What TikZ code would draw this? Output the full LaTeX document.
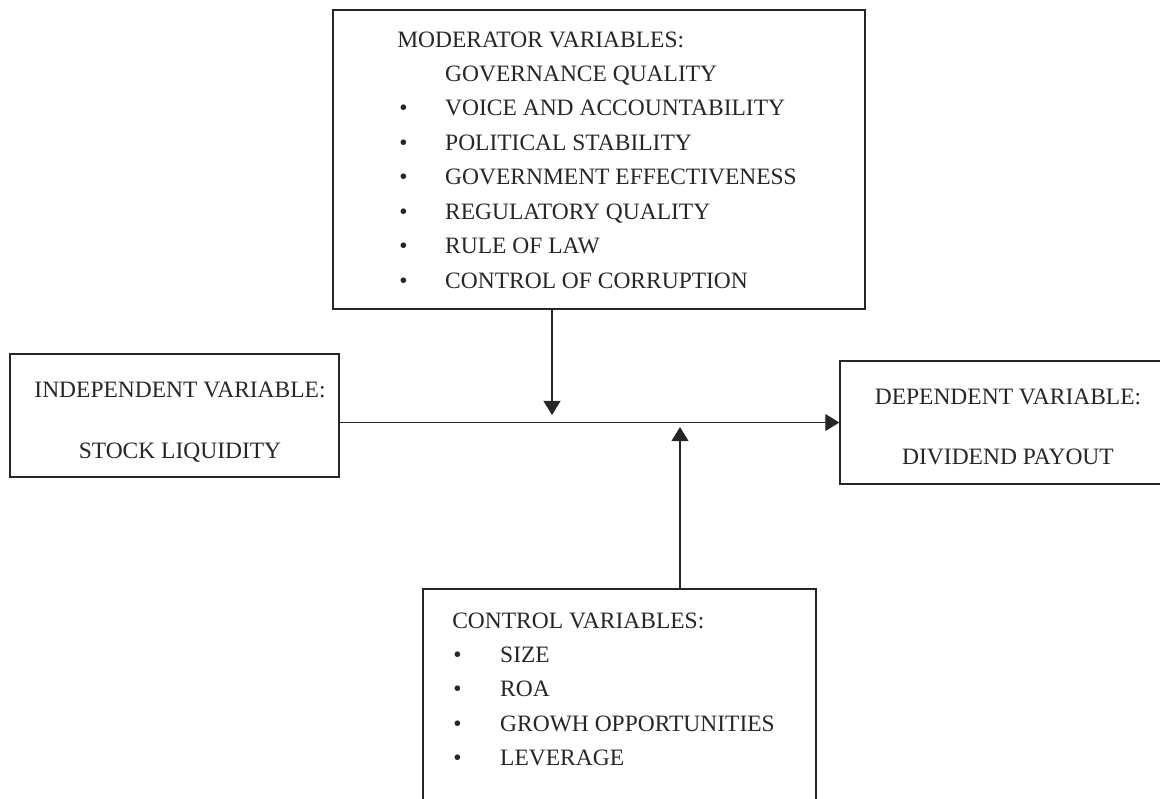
\documentclass[tikz,border=0pt]{standalone}
\usepackage{fontspec}
\setmainfont{Liberation Serif}
\usetikzlibrary{arrows.meta,fit}
\definecolor{ink}{HTML}{262626}
\tikzset{
  box/.style={draw=ink,line width=0.9pt,inner sep=0pt},
  txt/.style={inner sep=0pt,font=\fontsize{16.7}{24.5}\selectfont,text=ink},
  arr/.style={-{Triangle[length=10pt,width=12pt]},line width=0.9pt,color=ink}}

\begin{document}
\begin{tikzpicture}[x=0.025cm,y=-0.025cm]
\clip (0,0) rectangle (1160,798);
% boxes
\node[box,fit={(333,10) (865,309)}] (mod) {};
\node[box,fit={(10,354) (339,477)}] (indep) {};
\node[box,fit={(840,361) (1166,484)}] (dep) {};
\node[box,fit={(423,589) (816,812)}] (ctrl) {};
% texts
\node[txt,anchor=base west] (modtxt) at (397,47) {\begin{tabular}[t]{@{\hspace{1.4pt}}p{32.7pt}@{}l@{}}
\multicolumn{2}{@{}l@{}}{MODERATOR VARIABLES:}\\
 & GOVERNANCE QUALITY\\
\textbullet & VOICE AND ACCOUNTABILITY\\
\textbullet & POLITICAL STABILITY\\
\textbullet & GOVERNMENT EFFECTIVENESS\\
\textbullet & REGULATORY QUALITY\\
\textbullet & RULE OF LAW\\
\textbullet & CONTROL OF CORRUPTION
\end{tabular}};
\node[txt,anchor=base] (indeptxt) at (180,397) {\begin{tabular}[t]{@{}c@{}}
INDEPENDENT VARIABLE:\\[18.9pt]
STOCK LIQUIDITY
\end{tabular}};
\node[txt,anchor=base] (deptxt) at (1008,404) {\begin{tabular}[t]{@{}c@{}}
DEPENDENT VARIABLE:\\[18.2pt]
DIVIDEND PAYOUT
\end{tabular}};
\node[txt,anchor=base west] (ctrltxt) at (452,628) {\begin{tabular}[t]{@{\hspace{0.7pt}}p{33.4pt}@{}l@{}}
\multicolumn{2}{@{}l@{}}{CONTROL VARIABLES:}\\
\textbullet & SIZE\\
\textbullet & ROA\\
\textbullet & GROWH OPPORTUNITIES\\
\textbullet & LEVERAGE
\end{tabular}};
% connectors
\coordinate (dn) at (552,415);
\coordinate (up) at (680,427);
\draw[arr] (indep.east |- dep.west) -- (dep.west);
\draw[arr] (dn |- mod.south) -- (dn);
\draw[arr] (up |- ctrl.north) -- (up);
\end{tikzpicture}
\end{document}
